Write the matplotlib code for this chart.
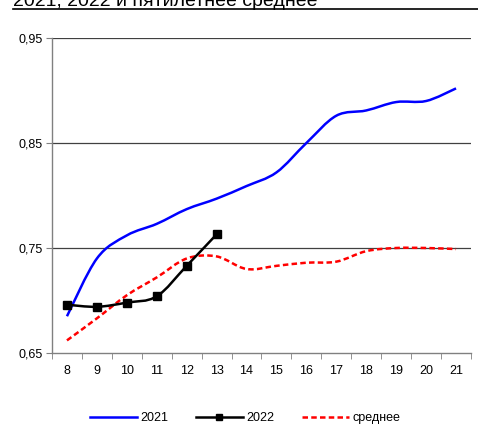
import matplotlib.pyplot as plt
from matplotlib.path import Path
from matplotlib.patches import PathPatch
from matplotlib.lines import Line2D

plt.rcParams['font.family'] = ['Liberation Sans', 'DejaVu Sans']

# ---- data ----
weeks = [8, 9, 10, 11, 12, 13, 14, 15, 16, 17, 18, 19, 20, 21]
y2021 = [0.685, 0.740, 0.762, 0.773, 0.787, 0.797, 0.809, 0.822, 0.850, 0.876, 0.881, 0.889, 0.890, 0.902]
y2022 = [0.696, 0.694, 0.698, 0.704, 0.733, 0.763]
avg5 = [0.662, 0.683, 0.705, 0.722, 0.740, 0.742, 0.730, 0.733, 0.736, 0.737, 0.747, 0.750, 0.750, 0.749]
title = "2021, 2022 и пятилетнее среднее"


def smooth_path(xs, ys):
    # Excel-style smoothed line: cubic Bezier through points (Catmull-Rom controls)
    pts = list(zip(xs, ys))
    verts = [pts[0]]
    codes = [Path.MOVETO]
    n = len(pts)
    for i in range(n - 1):
        p0 = pts[i - 1] if i > 0 else pts[i]
        p1 = pts[i]
        p2 = pts[i + 1]
        p3 = pts[i + 2] if i + 2 < n else pts[i + 1]
        c1 = (p1[0] + (p2[0] - p0[0]) / 6, p1[1] + (p2[1] - p0[1]) / 6)
        c2 = (p2[0] - (p3[0] - p1[0]) / 6, p2[1] - (p3[1] - p1[1]) / 6)
        verts += [c1, c2, p2]
        codes += [Path.CURVE4] * 3
    return Path(verts, codes)


dash = (0, (2.2, 1.3))

fig = plt.figure(figsize=(4.78, 4.34), dpi=100)
ax = fig.add_axes([52 / 478, 1 - 353 / 434, (471 - 52) / 478, (353 - 38) / 434])

x_pos = list(range(len(weeks)))

ax.add_patch(PathPatch(smooth_path(x_pos, y2021), fill=False, edgecolor="#0000ff", lw=1.8,
                       capstyle="butt", zorder=3))
ax.add_patch(PathPatch(smooth_path(x_pos, avg5), fill=False, edgecolor="#ff0000", lw=1.8,
                       linestyle=dash, zorder=3))
ax.add_patch(PathPatch(smooth_path(x_pos[:len(y2022)], y2022), fill=False, edgecolor="black", lw=1.8,
                       zorder=4))
ax.plot(x_pos[:len(y2022)], y2022, linestyle="none", marker="s", markersize=6, color="black", zorder=5)

ax.set_xlim(-0.5, len(weeks) - 0.5)
ax.set_ylim(0.65, 0.95)
ax.set_yticks([0.65, 0.75, 0.85, 0.95])
ax.set_yticklabels(["0,65", "0,75", "0,85", "0,95"], fontsize=9)
ax.set_xticks(x_pos)
ax.set_xticklabels([str(w) for w in weeks], fontsize=9)
ax.set_xticks([i - 0.5 for i in range(len(weeks) + 1)], minor=True)
ax.tick_params(axis="x", which="major", length=0, pad=9)
ax.tick_params(axis="x", which="minor", length=4, color="#808080", direction="out")
ax.tick_params(axis="y", length=4, color="#808080", pad=3)

for v in [0.75, 0.85, 0.95]:
    ax.axhline(v, color="#404040", lw=0.9, zorder=1)

for s in ["top", "right"]:
    ax.spines[s].set_visible(False)
for s in ["left", "bottom"]:
    ax.spines[s].set_color("#808080")
    ax.spines[s].set_linewidth(1.0)

# cropped header line at top (cut off in the original too)
fig.text(13 / 478, 1 - 6 / 434, title, fontsize=14, ha="left", va="baseline")
fig.add_artist(Line2D([13 / 478, 1.0], [1 - 9 / 434, 1 - 9 / 434], color="black", lw=1.2,
                      transform=fig.transFigure))

handles = [
    Line2D([], [], color="#0000ff", lw=1.8),
    Line2D([], [], color="black", lw=1.8, marker="s", markersize=5),
    Line2D([], [], color="#ff0000", lw=1.8, linestyle=dash),
]
fig.legend(handles, ["2021", "2022", "среднее"], loc="center", bbox_to_anchor=(245 / 478, 1 - 418 / 434),
           ncol=3, frameon=False, fontsize=9, handlelength=3.75, columnspacing=2.2, handletextpad=0.3,
           borderpad=0, borderaxespad=0)

fig.savefig("out.png", dpi=100)
